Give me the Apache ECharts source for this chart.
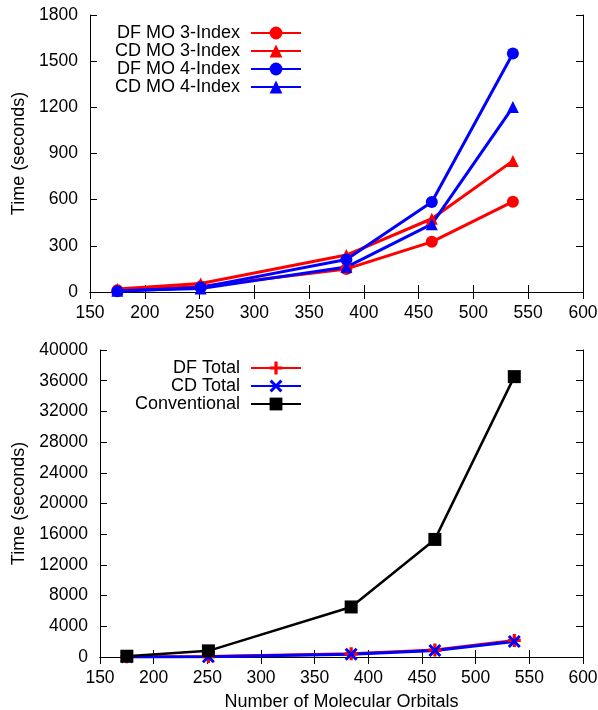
<!DOCTYPE html>
<html>
<head>
<meta charset="utf-8">
<script src="https://cdn.jsdelivr.net/npm/echarts@6/dist/echarts.min.js"></script>
<style>
  html, body { margin: 0; padding: 0; background: #fff; }
  #chart { width: 598px; height: 710px; }
</style>
</head>
<body>
<div id="chart"></div>
<script>
// 轨道数（横轴）
var orbitals = [175, 251, 384, 462, 536];

// 上图：MO 变换时间
var dfMo3 = [12, 35, 150, 326, 587];
var cdMo3 = [20, 55, 240, 476, 852];
var dfMo4 = [5, 30, 211, 585, 1550];
var cdMo4 = [8, 22, 162, 441, 1202];

// 下图：总时间
var dfTotal = [20, 60, 420, 900, 2150];
var cdTotal = [15, 30, 360, 850, 2020];
var conventional = [100, 800, 6520, 15320, 36530];

var FONT = "Liberation Sans";
var TICK_SIZE = 17.5;
var TEXT_SIZE = 18;

function pairs(xs, ys) {
  return xs.map(function (x, i) { return [x, ys[i]]; });
}

// 不要千分位
function plain(v) { return String(v); }

// 加号、叉号用填充路径画
var plusPath = "path://M4.5,0h3v4.5h4.5v3h-4.5v4.5h-3v-4.5h-4.5v-3h4.5z";
var crossPath = "path://M0,1.6L1.6,0L5,3.4L8.4,0L10,1.6L6.6,5L10,8.4L8.4,10L5,6.6L1.6,10L0,8.4L3.4,5z";

function xAxisPair(gi, withName) {
  var base = {
    gridIndex: gi, type: "value", min: 150, max: 600, interval: 50,
    axisLine: { show: true, lineStyle: { color: "#000", width: 1 } },
    axisTick: { show: true, inside: true, length: 7, lineStyle: { color: "#000" } },
    splitLine: { show: false }
  };
  var bottom = Object.assign({}, base, {
    position: "bottom",
    axisLabel: { color: "#000", fontFamily: FONT, fontSize: TICK_SIZE, margin: 12, formatter: plain }
  });
  if (withName) {
    bottom.name = "Number of Molecular Orbitals";
    bottom.nameLocation = "middle";
    bottom.nameGap = 36;
    bottom.nameTextStyle = { color: "#000", fontFamily: FONT, fontSize: TEXT_SIZE };
  }
  var top = Object.assign({}, base, { position: "top", axisLabel: { show: false } });
  return [bottom, top];
}

function yAxisPair(gi, max, interval, gap) {
  var base = {
    gridIndex: gi, type: "value", min: 0, max: max, interval: interval,
    axisLine: { show: true, lineStyle: { color: "#000", width: 1 } },
    axisTick: { show: true, inside: true, length: 7, lineStyle: { color: "#000" } },
    splitLine: { show: false }
  };
  var left = Object.assign({}, base, {
    position: "left",
    name: "Time (seconds)",
    nameLocation: "middle",
    nameGap: gap,
    nameTextStyle: { color: "#000", fontFamily: FONT, fontSize: TEXT_SIZE },
    axisLabel: { color: "#000", fontFamily: FONT, fontSize: TICK_SIZE, margin: 12, formatter: plain }
  });
  var right = Object.assign({}, base, { position: "right", axisLabel: { show: false } });
  return [left, right];
}

function lineSeries(name, data, color, symbol, size, xi, yi, width) {
  return {
    name: name, type: "line", xAxisIndex: xi, yAxisIndex: yi,
    data: pairs(orbitals, data),
    symbol: symbol, symbolSize: size,
    showAllSymbol: true,
    itemStyle: { color: color },
    lineStyle: { color: color, width: width || 3 },
    emphasis: { disabled: true },
    animation: false
  };
}

// 每个图例单独放，图标右对齐
function legendItem(name, top) {
  return {
    data: [name], right: 296, top: top,
    orient: "vertical", align: "right",
    itemWidth: 50, itemHeight: 16,
    padding: 0,
    selectedMode: false,
    textStyle: { color: "#000", fontFamily: FONT, fontSize: TEXT_SIZE, padding: [0, 6, 0, 0] }
  };
}

var chart = echarts.init(document.getElementById("chart"));

var xs = xAxisPair(0, false).concat(xAxisPair(1, true));
var ys = yAxisPair(0, 1800, 300, 62).concat(yAxisPair(1, 40000, 4000, 72));

chart.setOption({
  backgroundColor: "#fff",
  animation: false,
  grid: [
    { left: 90, top: 15, width: 493, height: 277, outerBoundsMode: "none" },
    { left: 100, top: 350, width: 483, height: 307, outerBoundsMode: "none" }
  ],
  legend: [
    legendItem("DF MO 3-Index", 24),
    legendItem("CD MO 3-Index", 42),
    legendItem("DF MO 4-Index", 60),
    legendItem("CD MO 4-Index", 78),
    legendItem("DF Total", 359),
    legendItem("CD Total", 377),
    legendItem("Conventional", 395)
  ],
  xAxis: xs,
  yAxis: ys,
  series: [
    lineSeries("DF MO 3-Index", dfMo3, "#ff0000", "circle", 12, 0, 0),
    lineSeries("CD MO 3-Index", cdMo3, "#ff0000", "triangle", 12, 0, 0),
    lineSeries("DF MO 4-Index", dfMo4, "#0000ff", "circle", 12, 0, 0),
    lineSeries("CD MO 4-Index", cdMo4, "#0000ff", "triangle", 12, 0, 0),
    lineSeries("DF Total", dfTotal, "#ff0000", plusPath, 13, 2, 2),
    lineSeries("CD Total", cdTotal, "#0000ff", crossPath, 13, 2, 2),
    lineSeries("Conventional", conventional, "#000000", "rect", 13, 2, 2, 2.5)
  ]
});
</script>
</body>
</html>
